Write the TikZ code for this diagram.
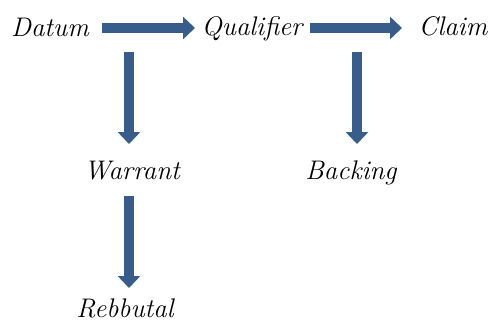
\documentclass[tikz,border=0pt]{standalone}
\usepackage{fontspec}
\usetikzlibrary{arrows.meta,calc}
\definecolor{arrowblue}{RGB}{56,93,138}
\tikzset{
  term/.style={inner sep=0pt, anchor=base, font=\fontsize{27}{32}\selectfont\itshape},
  blockarrow/.style={draw=arrowblue, line width=10bp, line cap=butt,
    -{Triangle[width=22bp,length=12bp]}, arrowblue}
}
\begin{document}
\begin{tikzpicture}[x=1bp,y=1bp]
  \useasboundingbox (0,0) rectangle (489,-327);
  % terms of the argument
  \node[term] (datum)    at (50,-36)   {Datum};
  \node[term] (qual)     at (252,-35)  {Qualifier};
  \node[term] (claim)    at (453,-35)  {Claim};
  \node[term] (warrant)  at (132,-179) {Warrant};
  \node[term] (backing)  at (351,-179) {Backing};
  \node[term] (rebbutal) at (125,-317) {Rebbutal};
  % block arrows
  \draw[blockarrow] ($(datum.base)+(52,8)$) -- ($(qual.base)+(-57,7)$);
  \draw[blockarrow] ($(qual.base)+(58,7)$) -- ($(claim.base)+(-51,7)$);
  \draw[blockarrow] ($(warrant.base)+(-3,127)$) -- ($(warrant.base)+(-3,35)$);
  \draw[blockarrow] ($(backing.base)+(6,127)$) -- ($(backing.base)+(6,35)$);
  \draw[blockarrow] ($(rebbutal.base)+(4,121)$) -- ($(rebbutal.base)+(4,29)$);
\end{tikzpicture}
\end{document}
